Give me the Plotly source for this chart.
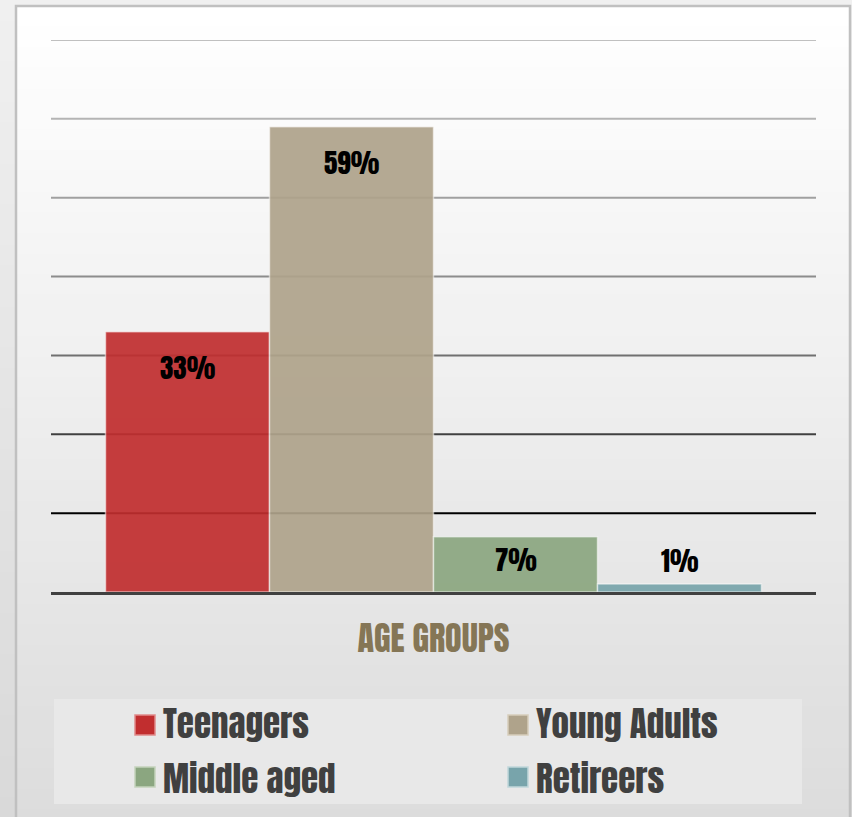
import plotly.graph_objects as go

# ---- data ----
categories = ["AGE GROUPS"]
series_names = ["Teenagers", "Young Adults", "Middle aged", "Retireers"]
series_values = [33, 59, 7, 1]
series_colors = ["#c12e2f", "#afa38b", "#8ba680", "#78a4ab"]
swatch_borders = ["#e08a8a", "#d6cdbb", "#c3d2bb", "#c0d6da"]
grid_values = [10, 20, 30, 40, 50, 60, 70]
grid_colors = ["#000000", "#404040", "#707070", "#8c8c8c", "#a0a0a0", "#b4b4b4", "#c0c0c0"]

# ---- geometry ----
W, H = 852, 817
ML, MR, MT, MB = 51, 36, 40, 225
PW, PH = W - ML - MR, H - MT - MB
BARGAP = 0.1425
FONT = "Anton, Oswald, Impact, sans-serif"
LEG_SIZE = 35


def px_x(x):
    return (x - ML) / PW


def px_y(y):
    return (MT + PH - y) / PH


def lerp_color(c1, c2, t):
    a = [int(c1[i:i + 2], 16) for i in (1, 3, 5)]
    b = [int(c2[i:i + 2], 16) for i in (1, 3, 5)]
    return "rgb(%d,%d,%d)" % tuple(round(a[k] + (b[k] - a[k]) * t) for k in range(3))


fig = go.Figure()
for name, val, col in zip(series_names, series_values, series_colors):
    fig.add_trace(go.Bar(
        x=categories, y=[val], name=name,
        marker=dict(color=col, line=dict(color="rgba(255,255,255,0.55)", width=1.5)),
        opacity=0.92, showlegend=False, hoverinfo="name+y",
    ))

shapes = []
# outer background gradient
N = 40
for i in range(N):
    y0 = i * H / N
    y1 = (i + 1) * H / N + 1
    shapes.append(dict(type="rect", xref="paper", yref="paper", layer="below",
                       x0=px_x(0), x1=px_x(W), y0=px_y(y1), y1=px_y(y0),
                       fillcolor=lerp_color("#f0f0f0", "#d9d9d9", i / (N - 1)),
                       line=dict(width=0)))
# inner frame gradient
FX0, FY0, FX1, FY1 = 16, 6, 850, 830
for i in range(N):
    y0 = FY0 + i * (FY1 - FY0) / N
    y1 = FY0 + (i + 1) * (FY1 - FY0) / N + 1
    shapes.append(dict(type="rect", xref="paper", yref="paper", layer="below",
                       x0=px_x(FX0), x1=px_x(FX1), y0=px_y(min(y1, FY1)), y1=px_y(y0),
                       fillcolor=lerp_color("#ffffff", "#dcdcdc", i / (N - 1)),
                       line=dict(width=0)))
shapes.append(dict(type="rect", xref="paper", yref="paper", layer="below",
                   x0=px_x(FX0), x1=px_x(FX1), y0=px_y(FY1), y1=px_y(FY0),
                   fillcolor="rgba(0,0,0,0)", line=dict(color="#c0c0c0", width=2.5)))
# gridlines
for gv, gc in zip(grid_values, grid_colors):
    shapes.append(dict(type="line", xref="paper", yref="y", layer="below",
                       x0=0, x1=1, y0=gv, y1=gv, line=dict(color=gc, width=2)))
# legend box
shapes.append(dict(type="rect", xref="paper", yref="paper", layer="below",
                   x0=px_x(54), x1=px_x(802), y0=px_y(804), y1=px_y(699),
                   fillcolor="#e8e8e8", line=dict(width=0)))

annotations = []
# legend entries (2 columns x 2 rows)
leg_cols = [135, 508]
swatch_rows = [725, 777]
text_rows = [723.5, 778.5]
for i, (name, col, bcol) in enumerate(zip(series_names, series_colors, swatch_borders)):
    cx = leg_cols[i % 2]
    sy = swatch_rows[i // 2]
    ty = text_rows[i // 2]
    shapes.append(dict(type="rect", xref="paper", yref="paper",
                       x0=px_x(cx), x1=px_x(cx + 20), y0=px_y(sy + 10), y1=px_y(sy - 10),
                       fillcolor=col, line=dict(color=bcol, width=1.5)))
    annotations.append(dict(xref="paper", yref="paper", x=px_x(cx + 26), y=px_y(ty),
                            xanchor="left", yanchor="middle", showarrow=False,
                            text=name, font=dict(family=FONT, size=LEG_SIZE, color="#404040")))

# data labels
gw = 1 - BARGAP
bw = gw / len(series_values)
ppu = PH / 70.0
for i, val in enumerate(series_values):
    xc = -gw / 2 + (i + 0.5) * bw
    hpx = val * ppu
    if hpx > 80:
        ys = -36
    elif hpx > 30:
        ys = -hpx / 2 + 5
    else:
        ys = 24
    annotations.append(dict(xref="x", yref="y", x=xc, y=val, yshift=ys,
                            showarrow=False, text=f"{val}%", xanchor="center", yanchor="middle",
                            font=dict(family=FONT, size=27, color="#000000")))

fig.update_layout(
    width=W, height=H,
    margin=dict(l=ML, r=MR, t=MT, b=MB, pad=0),
    paper_bgcolor="#efefef", plot_bgcolor="rgba(0,0,0,0)",
    barmode="group", bargap=BARGAP, bargroupgap=0,
    shapes=shapes, annotations=annotations,
    showlegend=False,
    xaxis=dict(type="category", showgrid=False, zeroline=False,
               showline=True, linecolor="#404040", linewidth=3,
               ticks="", ticklabelstandoff=16,
               tickfont=dict(family=FONT, size=34, color="#857656")),
    yaxis=dict(range=[0, 70], showgrid=False, zeroline=False, showticklabels=False,
               showline=False, ticks=""),
)

fig.write_html("out.html", config={"displayModeBar": False},
               post_script="document.body.style.margin='0';")
